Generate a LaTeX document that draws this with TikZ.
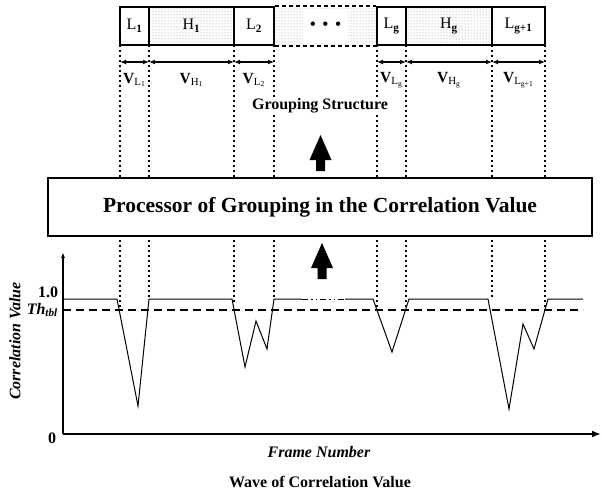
\documentclass[tikz,border=0pt]{standalone}
\usepackage{fontspec}
\setmainfont{Liberation Serif}
\usetikzlibrary{positioning, arrows.meta, patterns, calc}

\tikzset{
  grpbox/.style={rectangle, draw=black, line width=1.6pt, minimum height=38pt,
                 inner sep=0pt, font=\fontsize{16}{18}\selectfont},
  highbox/.style={grpbox, pattern=dots, pattern color=black!45},
  guide/.style={line width=1.4pt, dash pattern=on 2pt off 3pt},
  span/.style={{Latex[length=6pt,width=5pt]}-{Latex[length=6pt,width=5pt]}, line width=1.2pt},
  vlabel/.style={inner sep=1pt, font=\fontsize{15.5}{17}\selectfont},
  caption/.style={inner sep=1pt, font=\fontsize{16}{18}\selectfont\bfseries},
  wave/.style={line width=1pt, line join=miter},
  thresh/.style={line width=1.4pt, dash pattern=on 8pt off 5pt},
}
\newcommand{\fatup}[2]{% centre x, tip y
  \fill (#1,#2) -- ++(11,25) -- ++(-6.5,0) -- ++(0,11) -- ++(-9,0) -- ++(0,-11) -- ++(-6.5,0) -- cycle;}

\begin{document}
\begin{tikzpicture}[x=1pt, y=-1pt]
  \useasboundingbox (0,0) rectangle (602,495);

  % guide lines (drawn first, boxes lie over them)
  \coordinate (e1) at (120,308);
  \coordinate (e2) at (149,299);
  \coordinate (e3) at (234,305);
  \coordinate (e4) at (274,299);
  \coordinate (e5) at (377,308);
  \coordinate (e6) at (406,308);
  \coordinate (e7) at (492,300);
  \coordinate (e8) at (545,307);
  \foreach \e in {1,...,8} {
    \draw[guide] (e\e |- 0,45) -- (e\e);
  }

  % grouping structure
  \node[inner sep=0pt, minimum width=103pt, minimum height=38pt, pattern=dots, pattern color=black!45] (gap) at (325.5,26) {};
  \node[fill=white, inner sep=0pt, minimum width=45pt, minimum height=34pt, font=\fontsize{16}{18}\selectfont\bfseries] (dots) at (gap) {\textbullet\hspace{7pt}\textbullet\hspace{7pt}\textbullet};
  \node[grpbox, minimum width=29pt] (L1) at (134.5,26) {L\textsubscript{\textbf{1}}};
  \node[highbox, minimum width=85pt] (H1) at (191.5,26) {H\textsubscript{\textbf{1}}};
  \node[grpbox, minimum width=40pt] (L2) at (254,26) {L\textsubscript{\textbf{2}}};
  \node[grpbox, minimum width=29pt] (Lg) at (391.5,26) {L\textsubscript{\textbf{g}}};
  \node[highbox, minimum width=86pt] (Hg) at (449,26) {H\textsubscript{\textbf{g}}};
  \node[grpbox, minimum width=53pt] (Lg1) at (518.5,26) {L\textsubscript{\textbf{g+1}}};
  \draw[line width=1.6pt, dash pattern=on 4pt off 3pt] (L2.north east) -- (Lg.north west);
  \draw[line width=1.6pt, dash pattern=on 4pt off 3pt] (L2.south east) -- (Lg.south west);

  % spans
  \draw[span] (e1 |- 0,62) -- (e2 |- 0,62);
  \draw[span] (e2 |- 0,62) -- (e3 |- 0,62);
  \draw[span] (e3 |- 0,62) -- (e4 |- 0,62);
  \draw[span] (e5 |- 0,62) -- (e6 |- 0,62);
  \draw[span] (e6 |- 0,62) -- (e7 |- 0,62);
  \draw[span] (e7 |- 0,62) -- (e8 |- 0,62);
  \node[vlabel] (vl1) at (L1 |- 0,80) {\textbf{V}\textsubscript{L\textsubscript{1}}};
  \node[vlabel] (vh1) at (H1 |- 0,80) {\textbf{V}\textsubscript{H\textsubscript{1}}};
  \node[vlabel] (vl2) at (L2 |- 0,80) {\textbf{V}\textsubscript{L\textsubscript{2}}};
  \node[vlabel] (vlg) at (Lg |- 0,80) {\textbf{V}\textsubscript{L\textsubscript{g}}};
  \node[vlabel] (vhg) at (Hg |- 0,80) {\textbf{V}\textsubscript{H\textsubscript{g}}};
  \node[vlabel] (vlg1) at (Lg1 |- 0,80) {\textbf{V}\textsubscript{L\textsubscript{g+1}}};
  \node[caption, fill=white] (gs) at (320,106) {Grouping Structure};

  % processor
  \node[draw=black, line width=1.8pt, fill=white, minimum width=544pt, minimum height=58pt,
        font=\fontsize{21.5}{23}\selectfont\bfseries] (proc) at (320,207) {Processor of Grouping in the Correlation Value};
  \fatup{320.5}{135}
  \fatup{322}{243}

  % plot
  \coordinate (o) at (63,434);
  \draw[line width=2pt, -{Latex[length=9pt,width=7pt]}] (o) -- (601,434);
  \draw[line width=1.4pt, -{Latex[length=6pt,width=4pt]}] (o) -- (63,252);
  \draw[thresh] (63,310) -- (583,310);
  \draw[wave] (63,299) -- (117,299) -- (138,406) -- (149,299) -- (232,299) -- (245,367)
    -- (256,321) -- (267,349) -- (274,299) -- (302,299);
  \draw[wave, dash pattern=on 6pt off 3pt on 1.5pt off 3pt on 1.5pt off 3pt] (302,299) -- (345,299);
  \draw[wave] (345,299) -- (373,299) -- (392,352) -- (409,299) -- (488,299) -- (509,409)
    -- (523,324) -- (534,349) -- (548,299) -- (583,299);

  \node[caption] (one) at (48,292) {1.0};
  \node[caption, anchor=east] (th) at (59,310) {\textit{Th}\textsubscript{\textit{tbl}}};
  \node[caption] (zero) at (52,438) {0};
  \node[caption, rotate=90] (ylab) at (15,341) {\textit{Correlation Value}};
  \node[caption] (xlab) at (319,452) {\textit{Frame Number}};
  \node[caption] (title) at (320,482) {Wave of Correlation Value};
\end{tikzpicture}
\end{document}
